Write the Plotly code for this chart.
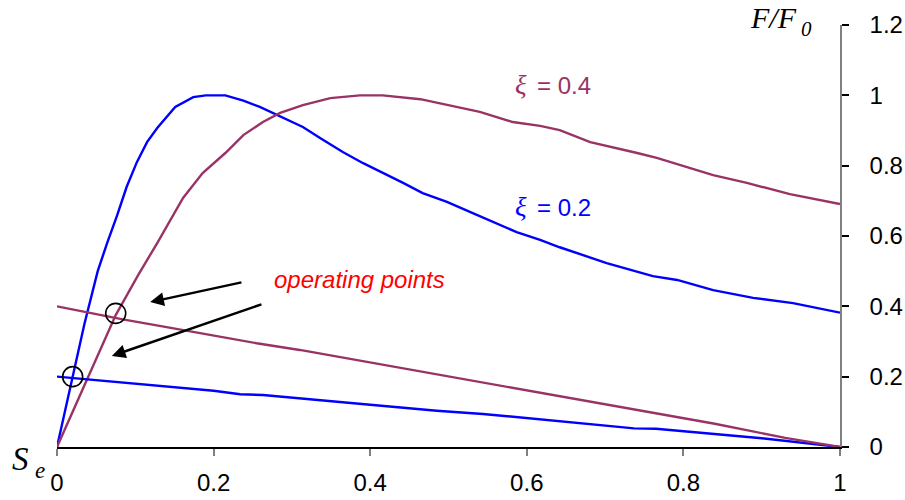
import plotly.graph_objects as go

# Dimensionless output F/F0 against substrate concentration Se
blue_curve_x = [0, 0.02, 0.035, 0.052, 0.064, 0.077, 0.089, 0.102, 0.115, 0.128, 0.151,
                0.174, 0.19, 0.215, 0.238, 0.259, 0.281, 0.314, 0.338, 0.365, 0.391,
                0.417, 0.442, 0.467, 0.498, 0.531, 0.557, 0.587, 0.617, 0.642, 0.702,
                0.761, 0.792, 0.838, 0.889, 0.94, 1.0]
blue_curve_y = [0, 0.2, 0.35, 0.5, 0.58, 0.66, 0.74, 0.81, 0.867, 0.907, 0.967,
                0.995, 1.0, 1.0, 0.985, 0.967, 0.944, 0.91, 0.876, 0.839, 0.807,
                0.779, 0.751, 0.722, 0.697, 0.665, 0.64, 0.611, 0.589, 0.568, 0.523,
                0.486, 0.475, 0.446, 0.424, 0.409, 0.382]

purple_curve_x = [0, 0.04, 0.075, 0.104, 0.128, 0.161, 0.186, 0.215, 0.238, 0.263, 0.285,
                  0.314, 0.349, 0.387, 0.416, 0.464, 0.498, 0.54, 0.582, 0.617, 0.642,
                  0.681, 0.741, 0.766, 0.838, 0.881, 0.936, 1.0]
purple_curve_y = [0, 0.2, 0.375, 0.49, 0.58, 0.708, 0.779, 0.836, 0.887, 0.924, 0.95,
                  0.972, 0.992, 1.0, 1.0, 0.989, 0.972, 0.953, 0.924, 0.913, 0.901,
                  0.867, 0.836, 0.822, 0.773, 0.751, 0.719, 0.691]

blue_line_x = [0, 0.1, 0.2, 0.234, 0.263, 0.4, 0.485, 0.544, 0.7, 0.737, 0.765, 0.9, 1.0]
blue_line_y = [0.2, 0.18, 0.16, 0.15, 0.148, 0.12, 0.103, 0.094, 0.062, 0.053, 0.052, 0.025, 0]

purple_line_x = [0, 0.084, 0.14, 0.2, 0.255, 0.31, 0.391, 0.54, 0.598, 0.688, 0.742,
                 0.79, 0.84, 0.93, 1.0]
purple_line_y = [0.4, 0.363, 0.341, 0.316, 0.295, 0.276, 0.244, 0.186, 0.162, 0.126,
                 0.106, 0.086, 0.066, 0.026, 0]

operating_x = [0.02, 0.075]
operating_y = [0.2, 0.38]

x_ticks = [0, 0.2, 0.4, 0.6, 0.8, 1]
y_ticks = [0, 0.2, 0.4, 0.6, 0.8, 1, 1.2]

Y_MAX = 1.2
BLUE = "#0000FF"
PURPLE = "#993366"
SANS = "Liberation Sans, Arial, sans-serif"
SERIF = "Liberation Serif, Times New Roman, serif"

fig = go.Figure()

for xs, ys, color in [
    (blue_curve_x, blue_curve_y, BLUE),
    (purple_curve_x, purple_curve_y, PURPLE),
    (blue_line_x, blue_line_y, BLUE),
    (purple_line_x, purple_line_y, PURPLE),
]:
    fig.add_trace(go.Scatter(x=xs, y=ys, mode="lines",
                             line=dict(color=color, width=2.4),
                             cliponaxis=False, showlegend=False, hoverinfo="skip"))

fig.add_trace(go.Scatter(
    x=operating_x, y=operating_y, mode="markers",
    marker=dict(symbol="circle-open", size=20, color="black", line=dict(width=1.6)),
    cliponaxis=False, showlegend=False, hoverinfo="skip"))


def label(x, y, text, family, size, color):
    # text placed in paper space so it may sit outside the axis ranges
    return dict(x=x, y=y / Y_MAX, xref="paper", yref="paper", text=text,
                xanchor="left", yanchor="middle", showarrow=False,
                font=dict(family=family, size=size, color=color))


annotations = [
    label(0.582, 1.029, "<i>ξ</i>", SERIF, 27, PURPLE),
    label(0.610, 1.029, "= 0.4", SANS, 24, PURPLE),
    label(0.582, 0.682, "<i>ξ</i>", SERIF, 27, BLUE),
    label(0.610, 0.682, "= 0.2", SANS, 24, BLUE),
    label(0.274, 0.475, "<i>operating points</i>", SANS, 24, "#FF0000"),
    label(0.883, 1.222, "<i>F/F</i>", SERIF, 30, "black"),
    label(0.948, 1.19, "<i>0</i>", SERIF, 21, "black"),
    label(-0.06, -0.034, "<i>S</i>", SERIF, 33, "black"),
    label(-0.031, -0.066, "<i>e</i>", SERIF, 23, "black"),
]

# arrows pointing to the operating points
for head, tail in [((0.119, 0.412), (0.2375, 0.469)),
                   ((0.070, 0.259), (0.263, 0.407))]:
    annotations.append(dict(
        x=head[0], y=head[1], ax=tail[0], ay=tail[1],
        xref="x", yref="y", axref="x", ayref="y", text="",
        showarrow=True, arrowhead=2, arrowsize=1.1, arrowwidth=2.5,
        arrowcolor="black", standoff=0, startstandoff=0))

fig.update_layout(
    width=905, height=500,
    margin=dict(l=57, r=65, t=25, b=53),
    paper_bgcolor="white", plot_bgcolor="white",
    annotations=annotations,
    xaxis=dict(range=[0, 1], tickvals=x_ticks, ticktext=[f"{v:g}" for v in x_ticks],
               showgrid=False, zeroline=False, showline=True, linecolor="black",
               linewidth=1.5, ticks="outside", ticklen=7, tickcolor="#808080",
               tickwidth=1.5, ticklabelstandoff=6, automargin=False,
               tickfont=dict(family=SANS, size=24, color="black")),
    yaxis=dict(range=[0, Y_MAX], tickvals=y_ticks, ticktext=[f"{v:g}" for v in y_ticks],
               side="right", showgrid=False, zeroline=False, showline=True,
               linecolor="#808080", linewidth=1.5, ticks="outside", ticklen=7,
               tickcolor="black", tickwidth=1.5, ticklabelstandoff=16, automargin=False,
               tickfont=dict(family=SANS, size=24, color="black")),
)

fig.write_html("out.html")
